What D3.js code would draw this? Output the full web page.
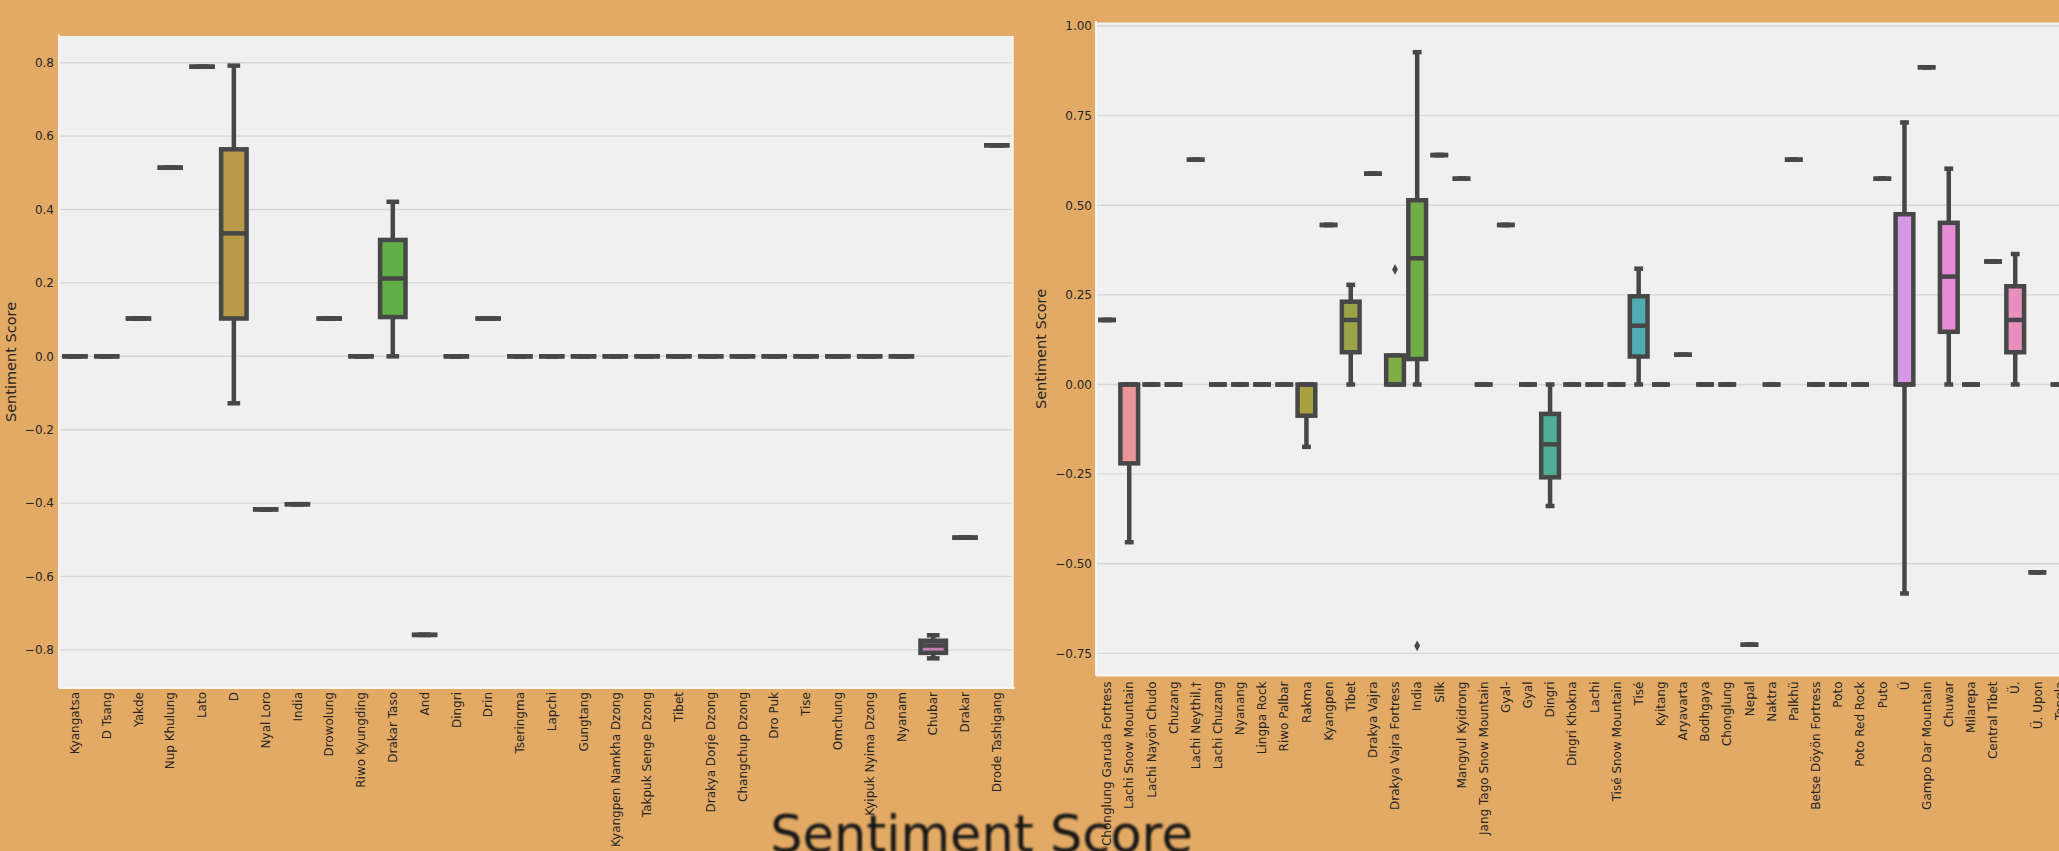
<!DOCTYPE html>
<html>
<head>
<meta charset="utf-8">
<script src="https://cdn.jsdelivr.net/npm/d3@7"></script>
<style>
  html, body { margin: 0; padding: 0; background: #e3aa65; }
  svg { display: block; }
  text { font-family: "DejaVu Sans", sans-serif; }
</style>
</head>
<body>
<svg id="chart" width="2059" height="851"></svg>
<script>
// ---- Left panel: sentiment per place name ----
const leftCategories = [
  "Kyangatsa", "D Tsang", "Yakde", "Nup Khulung", "Lato", "D", "Nyal Loro", "India",
  "Drowolung", "Riwo Kyungding", "Drakar Taso", "And", "Dingri", "Drin", "Tseringma",
  "Lapchi", "Gungtang", "Kyangpen Namkha Dzong", "Takpuk Senge Dzong", "Tibet",
  "Drakya Dorje Dzong", "Changchup Dzong", "Dro Puk", "Tise", "Omchung",
  "Kyipuk Nyima Dzong", "Nyanam", "Chubar", "Drakar", "Drode Tashigang"
];
// A number is a single score; an array is [lower whisker, Q1, median, Q3, upper whisker]
const leftBoxes = [
  0, 0, 0.103, 0.514, 0.789,
  [-0.128, 0.103, 0.335, 0.564, 0.792],
  -0.417, -0.403, 0.103, 0,
  [0, 0.107, 0.212, 0.317, 0.421],
  -0.759, 0, 0.103,
  0, 0, 0, 0, 0, 0, 0, 0, 0, 0, 0, 0, 0,
  [-0.823, -0.808, -0.788, -0.775, -0.760],
  -0.494, 0.575
];
const leftOutliers = [];
const leftYTicks = [-0.8, -0.6, -0.4, -0.2, 0.0, 0.2, 0.4, 0.6, 0.8];

// ---- Right panel ----
const rightCategories = [
  "Chonglung Garuda Fortress", "Lachi Snow Mountain", "Lachi Nayön Chudo", "Chuzang",
  "Lachi Neythil,†", "Lachi Chuzang", "Nyanang", "Lingpa Rock", "Riwo Palbar", "Rakma",
  "Kyangpen", "Tibet", "Drakya Vajra", "Drakya Vajra Fortress", "India", "Silk",
  "Mangyul Kyidrong", "Jang Tago Snow Mountain", "Gyal-", "Gyal", "Dingri",
  "Dingri Khokna", "Lachi", "Tisé Snow Mountain", "Tisé", "Kyitang", "Aryavarta",
  "Bodhgaya", "Chonglung", "Nepal", "Naktra", "Palkhü", "Betse Döyön Fortress", "Poto",
  "Poto Red Rock", "Puto", "Ü", "Gampo Dar Mountain", "Chuwar", "Milarepa",
  "Central Tibet", "Ü.", "Ü. Upon", "Tongla"
];
const rightBoxes = [
  0.180,
  [-0.440, -0.220, 0, 0, 0],
  0, 0, 0.627, 0, 0, 0, 0,
  [-0.174, -0.087, 0, 0, 0],
  0.445,
  [0, 0.090, 0.180, 0.231, 0.278],
  0.588,
  [0, 0, 0, 0.081, 0.081],
  [0, 0.071, 0.352, 0.514, 0.927],
  0.640, 0.574, 0, 0.445, 0,
  [-0.339, -0.259, -0.167, -0.082, 0],
  0, 0, 0,
  [0, 0.078, 0.164, 0.246, 0.323],
  0, 0.083, 0, 0, -0.726, 0, 0.627, 0, 0, 0, 0.574,
  [-0.583, 0, 0, 0.475, 0.731],
  0.885,
  [0, 0.147, 0.301, 0.451, 0.602],
  0, 0.343,
  [0, 0.090, 0.180, 0.274, 0.364],
  -0.524, 0
];
const rightOutliers = [["Drakya Vajra Fortress", 0.321], ["India", -0.729]];
const rightYTicks = [-0.75, -0.50, -0.25, 0.00, 0.25, 0.50, 0.75, 1.00];

// Box fill colours (only boxes with a visible body show them)
const leftFills = { "D": "#b89a48", "Drakar Taso": "#5fae46", "Chubar": "#c27db3" };
const rightFills = {
  "Lachi Snow Mountain": "#e8969b", "Rakma": "#a9a03f", "Tibet": "#9ca347",
  "Drakya Vajra Fortress": "#7fae45", "India": "#72ac47", "Dingri": "#4fae97",
  "Tisé": "#50acb0", "Ü": "#d796e6", "Chuwar": "#e68bd8", "Ü.": "#e890bd"
};

const LINE = "#474747";
const STROKE = 4.5;

const svg = d3.select("#chart");

function stats(v) { return typeof v === "number" ? [v, v, v, v, v] : v; }

function drawPanel(cfg) {
  const boxes = cfg.boxes.map(stats);
  const allVals = boxes.flat().concat(cfg.outliers.map(d => d[1]));
  const [mn, mx] = d3.extent(allVals);
  const pad = (mx - mn) * 0.05;

  const x = d3.scaleBand().domain(cfg.categories)
    .range([cfg.left, cfg.left + cfg.band * cfg.categories.length])
    .paddingInner(0).paddingOuter(0);
  const y = d3.scaleLinear().domain([mn - pad, mx + pad]).range([cfg.bottom, cfg.top]);
  const right = x.range()[1];

  const g = svg.append("g");

  // plot background
  g.append("rect")
    .attr("x", cfg.left).attr("y", cfg.top)
    .attr("width", right - cfg.left).attr("height", cfg.bottom - cfg.top)
    .attr("fill", "#f0f0f0");

  // horizontal grid
  g.append("g").selectAll("line").data(cfg.ticks).join("line")
    .attr("x1", cfg.left).attr("x2", right)
    .attr("y1", d => y(d)).attr("y2", d => y(d))
    .attr("stroke", "#d6d6d6").attr("stroke-width", 1.4);

  // spines
  const sp = g.append("g").attr("stroke", "#f8f5f0").attr("stroke-width", 2);
  sp.append("line").attr("x1", cfg.left).attr("x2", cfg.left)
    .attr("y1", cfg.top - 1.5).attr("y2", cfg.bottom);
  sp.append("line").attr("x1", cfg.left).attr("x2", right + 2)
    .attr("y1", cfg.bottom).attr("y2", cfg.bottom);
  sp.append("line").attr("x1", right).attr("x2", right)
    .attr("y1", cfg.top).attr("y2", cfg.bottom);

  // y axis
  const yAxis = g.append("g")
    .attr("transform", `translate(${cfg.left},0)`)
    .call(d3.axisLeft(y).tickValues(cfg.ticks).tickFormat(d3.format(cfg.fmt))
      .tickSize(0).tickPadding(cfg.yPad));
  yAxis.select(".domain").remove();
  yAxis.selectAll("text").attr("font-size", 12).attr("fill", "#262626")
    .style("font-family", "DejaVu Sans");

  // x axis with vertical labels
  const xAxis = g.append("g")
    .attr("transform", `translate(0,${cfg.bottom})`)
    .call(d3.axisBottom(x).tickSize(0));
  xAxis.select(".domain").remove();
  xAxis.selectAll("text")
    .attr("transform", "rotate(-90)")
    .attr("text-anchor", "end")
    .attr("x", -cfg.xPad).attr("y", 0).attr("dy", "0.35em")
    .attr("font-size", 12).attr("fill", "#262626")
    .style("font-family", "DejaVu Sans");

  // y axis title
  g.append("text")
    .attr("transform", `translate(${cfg.titleX},${(cfg.top + cfg.bottom) / 2}) rotate(-90)`)
    .attr("text-anchor", "middle")
    .attr("font-size", 14.5).attr("fill", "#262626")
    .text("Sentiment Score");

  // boxes
  const bw = x.bandwidth() * 0.8;
  const marks = g.append("g");
  cfg.categories.forEach((c, i) => {
    const [lo, q1, med, q3, hi] = boxes[i];
    const cx = x(c) + x.bandwidth() / 2;
    const m = marks.append("g").attr("stroke", LINE).attr("stroke-width", STROKE);
    // whiskers
    if (lo < q1) m.append("line").attr("x1", cx).attr("x2", cx).attr("y1", y(q1)).attr("y2", y(lo));
    if (hi > q3) m.append("line").attr("x1", cx).attr("x2", cx).attr("y1", y(q3)).attr("y2", y(hi));
    // caps
    [lo, hi].forEach(v => m.append("line")
      .attr("x1", cx - bw / 4).attr("x2", cx + bw / 4)
      .attr("y1", y(v)).attr("y2", y(v)));
    // box body
    if (q3 > q1) {
      m.append("rect")
        .attr("x", cx - bw / 2).attr("y", y(q3))
        .attr("width", bw).attr("height", y(q1) - y(q3))
        .attr("fill", cfg.fills[c] || "#999");
    } else {
      m.append("line").attr("x1", cx - bw / 2).attr("x2", cx + bw / 2)
        .attr("y1", y(q1)).attr("y2", y(q1));
    }
    // median
    m.append("line").attr("x1", cx - bw / 2).attr("x2", cx + bw / 2)
      .attr("y1", y(med)).attr("y2", y(med));
  });

  // outliers (thin diamonds)
  marks.append("g").selectAll("path").data(cfg.outliers).join("path")
    .attr("transform", d => `translate(${x(d[0]) + x.bandwidth() / 2},${y(d[1])})`)
    .attr("d", "M0,-5.4L2.9,0L0,5.4L-2.9,0Z")
    .attr("fill", LINE);
}

drawPanel({
  categories: leftCategories, boxes: leftBoxes, outliers: leftOutliers,
  fills: leftFills, ticks: leftYTicks, fmt: ".1f",
  left: 59, band: 31.79, top: 36, bottom: 688,
  yPad: 5, xPad: 4, titleX: 16
});

drawPanel({
  categories: rightCategories, boxes: rightBoxes, outliers: rightOutliers,
  fills: rightFills, ticks: rightYTicks, fmt: ".2f",
  left: 1096, band: 22.15, top: 22.5, bottom: 675.5,
  yPad: 4, xPad: 6, titleX: 1045.5
});

// soft, enlarged figure caption along the bottom edge
const defs = svg.append("defs");
defs.append("filter").attr("id", "soft")
  .append("feGaussianBlur").attr("stdDeviation", 0.9);

svg.append("text")
  .attr("x", 981.5).attr("y", 852)
  .attr("text-anchor", "middle")
  .attr("font-size", 51)
  .attr("fill", "#151515")
  .attr("filter", "url(#soft)")
  .text("Sentiment Score");
</script>
</body>
</html>
